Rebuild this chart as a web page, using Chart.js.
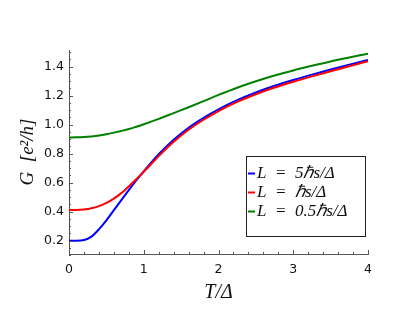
<!DOCTYPE html>
<html>
<head>
<meta charset="utf-8">
<script src="https://cdn.jsdelivr.net/npm/chart.js@4"></script>
<style>
  body { margin: 0; background: #fff; }
  #wrapper { width: 415px; height: 310px; position: relative; }
</style>
</head>
<body>
<div id="wrapper"><canvas id="myChart"></canvas></div>
<script>
// temperatura T/Delta
const tempT = [0, 0.1, 0.2, 0.3, 0.4, 0.5, 0.6, 0.7, 0.8, 0.9, 1.0, 1.2, 1.4, 1.6, 1.8, 2.0, 2.25, 2.5, 2.75, 3.0, 3.25, 3.5, 3.75, 4.0]
// conductancia G [e^2/h]
const gLargo = [0.200, 0.200, 0.204, 0.228, 0.278, 0.340, 0.410, 0.480, 0.549, 0.615, 0.678, 0.796, 0.896, 0.979, 1.047, 1.106, 1.169, 1.222, 1.268, 1.308, 1.345, 1.380, 1.414, 1.447]
const gMedio = [0.412, 0.412, 0.415, 0.423, 0.438, 0.460, 0.490, 0.528, 0.574, 0.624, 0.675, 0.783, 0.882, 0.965, 1.034, 1.094, 1.157, 1.210, 1.256, 1.296, 1.333, 1.368, 1.403, 1.438]
const gCorto = [0.912, 0.913, 0.915, 0.919, 0.925, 0.934, 0.945, 0.957, 0.970, 0.986, 1.003, 1.040, 1.080, 1.120, 1.162, 1.205, 1.255, 1.299, 1.339, 1.374, 1.406, 1.436, 1.463, 1.490]

const etiquetas = ['L\u2002=\u20025ℏs/Δ', 'L\u2002=\u2002ℏs/Δ', 'L\u2002=\u20020.5ℏs/Δ']
const colores = ['#0000ff', '#ff0000', '#008000']

const xTicks = [0, 1, 2, 3, 4]
const yTicks = [0.2, 0.4, 0.6, 0.8, 1.0, 1.2, 1.4]

const toPoints = serie => serie.map((g, i) => ({ x: tempT[i], y: g }))

// marcas de los ejes hacia adentro, mayores y menores
const marcas = {
  id: 'marcas',
  afterDraw(chart) {
    const { ctx, scales: { x, y } } = chart
    ctx.save()
    ctx.strokeStyle = '#555'
    ctx.lineWidth = 1
    ctx.beginPath()
    for (let k = 0; k <= 20; k++) {
      const px = Math.round(x.getPixelForValue(k * 0.2)) + 0.5
      const len = k % 5 === 0 ? 4 : 2
      ctx.moveTo(px, y.bottom)
      ctx.lineTo(px, y.bottom - len)
    }
    for (let k = 2; k <= 30; k++) {
      const py = Math.round(y.getPixelForValue(k * 0.05)) + 0.5
      const len = k % 4 === 0 ? 4 : 2
      ctx.moveTo(x.left, py)
      ctx.lineTo(x.left + len, py)
    }
    ctx.stroke()
    ctx.restore()
  }
}

// leyenda dentro del area del grafico
const leyenda = {
  id: 'leyenda',
  afterDraw(chart) {
    const { ctx, chartArea } = chart
    const right = chartArea.right - 3
    const bottom = chartArea.bottom - 18
    const w = 119, h = 80
    const left = right - w, top = bottom - h
    ctx.save()
    ctx.fillStyle = '#fff'
    ctx.fillRect(left, top, w, h)
    ctx.strokeStyle = '#222'
    ctx.lineWidth = 1
    ctx.strokeRect(Math.round(left) + 0.5, Math.round(top) + 0.5, w, h)
    ctx.font = 'italic 17px "Liberation Serif"'
    ctx.textBaseline = 'middle'
    chart.data.datasets.forEach((ds, i) => {
      const yy = top + 17.5 + i * 19
      ctx.strokeStyle = ds.borderColor
      ctx.lineWidth = 2
      ctx.beginPath()
      ctx.moveTo(left + 2, yy)
      ctx.lineTo(left + 9, yy)
      ctx.stroke()
      ctx.fillStyle = '#111'
      ctx.fillText(ds.label, left + 11, yy)
    })
    ctx.restore()
  }
}

const data = {
  datasets: [
    { label: etiquetas[0], data: toPoints(gLargo), borderColor: colores[0], order: 3 },
    { label: etiquetas[1], data: toPoints(gMedio), borderColor: colores[1], order: 2 },
    { label: etiquetas[2], data: toPoints(gCorto), borderColor: colores[2], order: 1 }
  ]
}

const config = {
  type: 'line',
  data: data,
  plugins: [marcas, leyenda],
  options: {
    responsive: true,
    maintainAspectRatio: false,
    animation: false,
    datasets: {
      line: {
        borderWidth: 2,
        pointRadius: 0,
        fill: false,
        cubicInterpolationMode: 'monotone'
      }
    },
    layout: { padding: { top: 50, right: 47, left: 0, bottom: 0 } },
    plugins: {
      legend: { display: false },
      tooltip: { enabled: false }
    },
    scales: {
      x: {
        type: 'linear',
        min: 0,
        max: 4,
        afterFit: scale => { scale.height = 56 },
        afterBuildTicks: scale => { scale.ticks = xTicks.map(v => ({ value: v })) },
        grid: { display: false, drawTicks: false },
        border: { display: true, color: '#555', width: 1 },
        ticks: {
          padding: 8,
          color: '#111',
          font: { family: 'DejaVu Sans', size: 12.5 },
          callback: value => String(value)
        },
        title: {
          display: true,
          text: 'T/Δ',
          color: '#111',
          font: { family: 'Liberation Serif', style: 'italic', size: 20 },
          padding: { top: 0, bottom: 5 }
        }
      },
      y: {
        min: 0.108,
        max: 1.515,
        afterFit: scale => { scale.width = 69 },
        afterBuildTicks: scale => { scale.ticks = yTicks.map(v => ({ value: v })) },
        grid: { display: false, drawTicks: false },
        border: { display: true, color: '#555', width: 1 },
        ticks: {
          padding: 5,
          color: '#111',
          font: { family: 'DejaVu Sans', size: 12.5 },
          callback: value => value.toFixed(1)
        },
        title: {
          display: true,
          text: 'G\u2002[e²/h]',
          color: '#111',
          font: { family: 'Liberation Serif', style: 'italic', size: 19 },
          padding: { top: 17, bottom: 0 }
        }
      }
    }
  }
}

new Chart(document.getElementById('myChart'), config)
</script>
</body>
</html>
